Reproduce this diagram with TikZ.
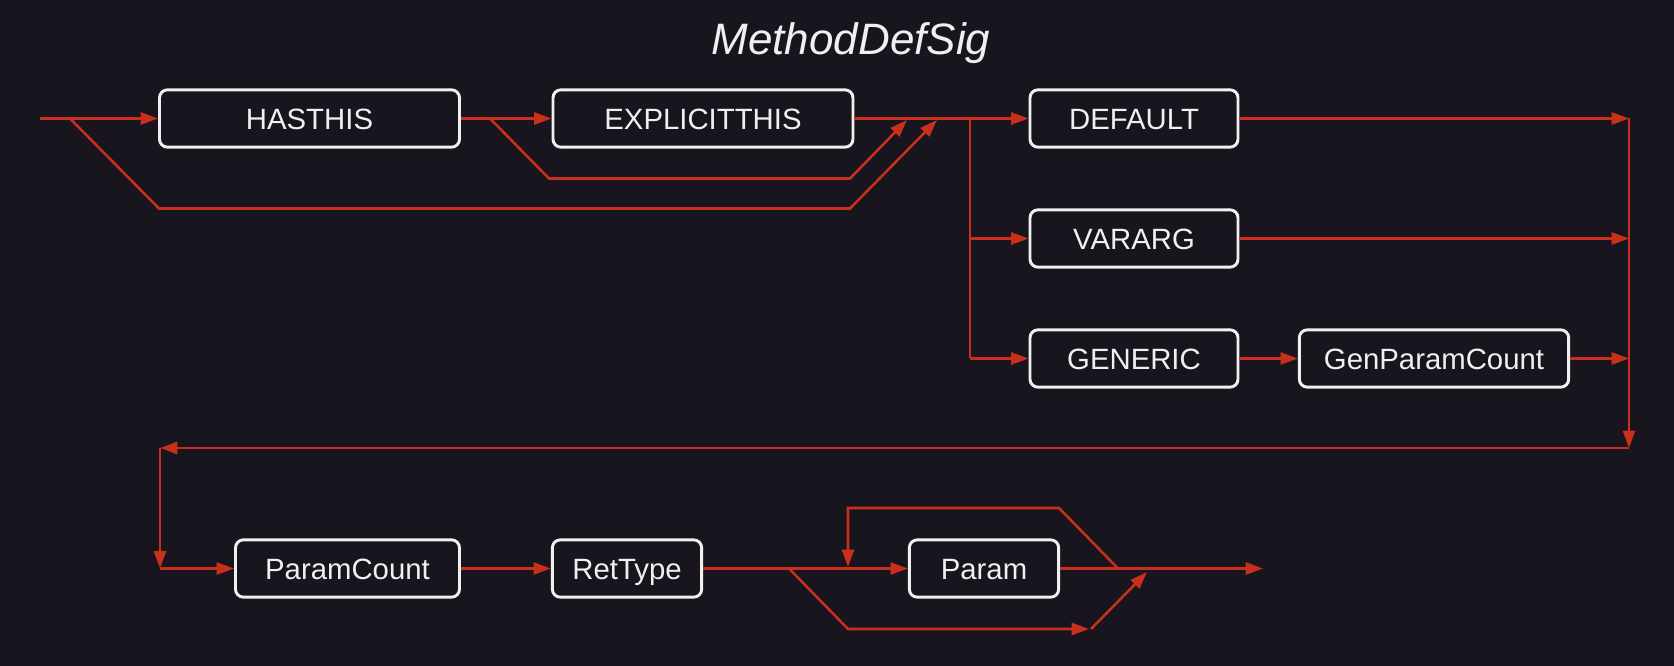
\documentclass[tikz,border=0pt]{standalone}
\usepackage{fontspec}
\setmainfont{Liberation Sans}
\usetikzlibrary{arrows.meta}
\definecolor{bg}{HTML}{18151E}
\definecolor{rl}{HTML}{C8301C}
\definecolor{bx}{HTML}{F0F0F0}
\tikzset{
  box/.style={draw=bx, line width=2.2pt, rounded corners=6pt, fill=bg, text=bx,
    minimum height=43pt, inner sep=0pt, text height=15.8pt, text depth=0pt,
    font=\fontsize{22}{26}\selectfont},
  rline/.style={draw=rl, line width=1.9pt},
  rarr/.style={rline, -{Triangle[length=13pt,width=9pt]}},
}
\begin{document}
\begin{tikzpicture}[x=0.75pt,y=-0.75pt]
\fill[bg] (0,0) rectangle (1674,666);
\useasboundingbox (0,0) rectangle (1674,666);
\node[text=bx, font=\fontsize{33}{38}\selectfont\itshape] (title) at (851,43) {MethodDefSig};
% boxes
\node[box, minimum width=225pt] (hasthis) at (309.5,118.5) {HASTHIS};
\node[box, minimum width=225pt] (explicit) at (703,118.5) {EXPLICITTHIS};
\node[box, minimum width=156pt] (default) at (1134,118.5) {DEFAULT};
\node[box, minimum width=156pt] (vararg) at (1134,238.5) {VARARG};
\node[box, minimum width=156pt] (generic) at (1134,358.5) {GENERIC};
\node[box, minimum width=202pt] (genparam) at (1434,358.5) {GenParamCount};
\node[box, minimum width=168pt] (paramcount) at (347.5,568.5) {ParamCount};
\node[box, minimum width=112pt] (rettype) at (627,568.5) {RetType};
\node[box, minimum width=112pt] (param) at (984,568.5) {Param};
% coordinates
\coordinate (start) at (39.5,118.5);
\coordinate (b1) at (70,118.5);
\coordinate (b1a) at (159,208.5);
\coordinate (b1b) at (850,208.5);
\coordinate (b1e) at (937,120);
\coordinate (b2) at (490,118.5);
\coordinate (b2a) at (549,178.5);
\coordinate (b2b) at (850,178.5);
\coordinate (b2e) at (907,120);
\coordinate (fork) at (970,118.5);
\coordinate (forkv) at (970,238.5);
\coordinate (forkg) at (970,358.5);
\coordinate (rtop) at (1629,118.5);
\coordinate (rmid) at (1629,238.5);
\coordinate (rlow) at (1629,358.5);
\coordinate (rbot) at (1629,448);
\coordinate (lbot) at (160,448);
\coordinate (lrow) at (160,568.5);
\coordinate (p1) at (789,568.5);
\coordinate (p1a) at (848,629);
\coordinate (p1b) at (1089,629);
\coordinate (p1c) at (1091,629);
\coordinate (p1e) at (1147,572);
\coordinate (loopj) at (1118,568.5);
\coordinate (loopa) at (1059,508);
\coordinate (loopb) at (848,508);
\coordinate (loope) at (848,567);
\coordinate (endp) at (1263,568.5);
% top row
\draw[rarr] (start) -- (hasthis.west);
\draw[rarr] (hasthis.east) -- (explicit.west);
\draw[rline] (explicit.east) -- (fork);
\draw[rarr] (fork) -- (default.west);
\draw[rarr] (b1) -- (b1a) -- (b1b) -- (b1e);
\draw[rarr] (b2) -- (b2a) -- (b2b) -- (b2e);
\draw[rline] (fork) -- (forkg);
\draw[rarr] (forkv) -- (vararg.west);
\draw[rarr] (forkg) -- (generic.west);
\draw[rarr] (default.east) -- (rtop);
\draw[rarr] (vararg.east) -- (rmid);
\draw[rarr] (generic.east) -- (genparam.west);
\draw[rarr] (genparam.east) -- (rlow);
\draw[rarr] (rtop) -- (rbot);
\draw[rarr] (rbot) -- (lbot);
\draw[rarr] (lbot) -- (lrow);
% bottom row
\draw[rarr] (lrow) -- (paramcount.west);
\draw[rarr] (paramcount.east) -- (rettype.west);
\draw[rline] (rettype.east) -- (p1);
\draw[rarr] (p1) -- (param.west);
\draw[rarr] (p1) -- (p1a) -- (p1b);
\draw[rarr] (p1c) -- (p1e);
\draw[rarr] (param.east) -- (endp);
\draw[rarr] (loopj) -- (loopa) -- (loopb) -- (loope);
\end{tikzpicture}
\end{document}
